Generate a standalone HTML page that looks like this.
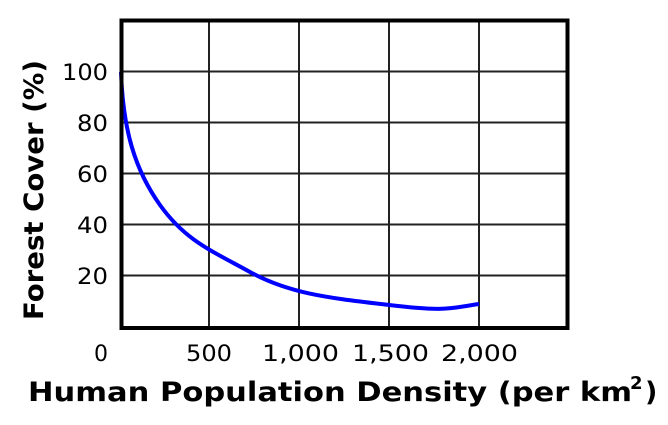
<!DOCTYPE html>
<html><head><style>body{margin:0;background:#fff}</style></head><body>
<svg width="668" height="420" xmlns="http://www.w3.org/2000/svg" font-family="DejaVu Sans, Liberation Sans, sans-serif">
<g stroke="#222" stroke-width="2">
<line x1="209" y1="20" x2="209" y2="328"/><line x1="299" y1="20" x2="299" y2="328"/>
<line x1="389" y1="20" x2="389" y2="328"/><line x1="479" y1="20" x2="479" y2="328"/>
<line x1="121" y1="71.5" x2="567" y2="71.5"/><line x1="121" y1="122.5" x2="567" y2="122.5"/>
<line x1="121" y1="173.5" x2="567" y2="173.5"/><line x1="121" y1="224.5" x2="567" y2="224.5"/>
<line x1="121" y1="275.5" x2="567" y2="275.5"/>
</g>
<path fill="none" stroke="#0000ff" stroke-width="4" stroke-linejoin="round" d="M121,72 C123,130 135,170 160,205 S210,250 250,272 S330,298 389,305 S450,308 479,304"/>
<rect x="121.5" y="20.5" width="446" height="307.5" fill="none" stroke="#000" stroke-width="4"/>
<g font-size="22" text-anchor="end" fill="#000">
<text x="108" y="80" textLength="46" lengthAdjust="spacingAndGlyphs">100</text><text x="108" y="131" textLength="31" lengthAdjust="spacingAndGlyphs">80</text><text x="108" y="182" textLength="31" lengthAdjust="spacingAndGlyphs">60</text>
<text x="108" y="233" textLength="31" lengthAdjust="spacingAndGlyphs">40</text><text x="108" y="284" textLength="31" lengthAdjust="spacingAndGlyphs">20</text>
</g>
<g font-size="22" fill="#000">
<text x="94" y="361">0</text><text x="186" y="361" textLength="46" lengthAdjust="spacingAndGlyphs">500</text><text x="262" y="361" textLength="77" lengthAdjust="spacingAndGlyphs">1,000</text>
<text x="352" y="361" textLength="77" lengthAdjust="spacingAndGlyphs">1,500</text><text x="441" y="361" textLength="77" lengthAdjust="spacingAndGlyphs">2,000</text>
</g>
<text x="28" y="401" font-size="27" font-weight="bold" textLength="604" lengthAdjust="spacingAndGlyphs">Human Population Density (per km</text>
<text x="630" y="389" font-size="18" font-weight="bold">2</text>
<text x="645" y="401" font-size="27" font-weight="bold">)</text>
<text transform="translate(43,320) rotate(-90)" font-size="27" font-weight="bold" textLength="260" lengthAdjust="spacingAndGlyphs">Forest Cover (%)</text>
</svg>
</body></html>
